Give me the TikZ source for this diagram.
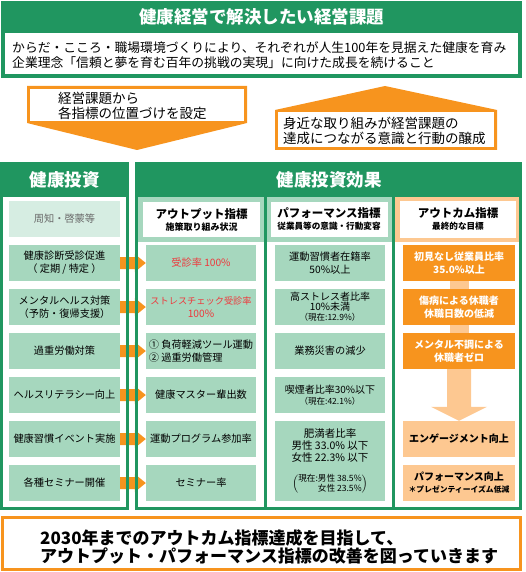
\documentclass[tikz,border=0pt]{standalone}
\usepackage{fontspec}
\setmainfont{Noto Sans CJK JP}
\usetikzlibrary{calc}

\definecolor{kgreen}{RGB}{32,150,96}
\definecolor{mint}{RGB}{166,215,190}
\definecolor{palemint}{RGB}{214,237,226}
\definecolor{korange}{RGB}{247,148,30}
\definecolor{lorange}{RGB}{253,200,145}
\definecolor{redtxt}{RGB}{238,56,60}
\definecolor{graytxt}{RGB}{105,105,105}

\newcommand\setfs[2]{\fontsize{#1}{#2}\selectfont}
% orange push arrow from a left item to its output item
\newcommand\pusharrow[2]{%
  \fill[korange] ($(#1.east)+(0,-6)$) -- ($(#2.west)+(-11,-6)$) -- ($(#2.west)+(-11,-9)$) -- (#2.west) -- ($(#2.west)+(-11,9)$) -- ($(#2.west)+(-11,6)$) -- ($(#1.east)+(0,6)$) -- cycle;}

\tikzset{
  leftitem/.style={fill=mint, minimum width=111pt, minimum height=36pt, inner sep=0pt, align=center, font=\setfs{10.2pt}{13pt}},
  outitem/.style={leftitem, minimum width=110pt},
  goalitem/.style={fill=korange, text=white, minimum width=112pt, minimum height=36pt, inner sep=0pt, align=center, font=\setfs{10pt}{13pt}\bfseries},
  softgoal/.style={goalitem, fill=lorange, text=black},
  headbox/.style={fill=white, minimum width=117pt, minimum height=35pt, inner sep=0pt, align=center, font=\bfseries},
  paneltitle/.style={text=white, inner sep=0pt, font=\setfs{17.5pt}{20pt}\bfseries},
  framegreen/.style={draw=kgreen, line width=3pt},
  plaintext/.style={anchor=west, align=left, inner sep=0pt},
}

\begin{document}
\begin{tikzpicture}[x=1pt,y=-1pt]
\useasboundingbox (0,0) rectangle (525,572);

% banner
\fill[kgreen] (1,1) rectangle (522,78);
\fill[white] (5,33) rectangle (518,74);
\node[paneltitle] (bannertitle) at (261.5,17) {健康経営で解決したい経営課題};
\node[plaintext, font=\setfs{12.8pt}{15pt}] (bannertext) at (12,55.5)
  {からだ・こころ・職場環境づくりにより、それぞれが人生100年を見据えた健康を育み\\企業理念「信頼と夢を育む百年の挑戦の実現」に向けた成長を続けること};

% down arrow and up arrow
\fill[korange] (27,86) -- (247,86) -- (247,123) -- (137,150) -- (27,123) -- cycle;
\fill[white] (30,89) rectangle (244,121);
\node[plaintext, font=\setfs{13.5pt}{15pt}] (settext) at (58,105.5) {経営課題から\\各指標の位置づけを設定};

\fill[korange] (275,150) -- (275,110) -- (385,86) -- (497,110) -- (497,150) -- cycle;
\fill[white] (278,112) rectangle (494,147);
\node[plaintext, font=\setfs{13.5pt}{15pt}] (fostertext) at (283,130.5) {身近な取り組みが経営課題の\\達成につながる意識と行動の醸成};

% panel heads
\fill[kgreen] (0,162) rectangle (129,197);
\fill[kgreen] (135,162) rectangle (522,197);
\node[paneltitle] (invtitle) at (64.5,180) {健康投資};
\node[paneltitle] (efftitle) at (329,180) {健康投資効果};

\fill[mint] (138,197) rectangle (264,242);
\fill[mint] (267,197) rectangle (392,242);
\fill[lorange] (395,197) rectangle (519,242);
\node[headbox] (outhead) at (201.5,219.5) {\setfs{11.5pt}{13pt}アウトプット指標\\\setfs{9pt}{11pt}施策取り組み状況};
\node[headbox] (perfhead) at (329,219.5) {\setfs{11.5pt}{13pt}パフォーマンス指標\\\setfs{8.6pt}{11pt}従業員等の意識・行動変容};
\node[headbox, minimum width=116pt, minimum height=37pt] (goalhead) at (458,219.5) {\setfs{11.5pt}{13pt}アウトカム指標\\\setfs{8.6pt}{11pt}最終的な目標};

% investment items
\node[leftitem, fill=palemint, text=graytxt] (l1) at (64.5,219) {周知・啓蒙等};
\node[leftitem] (l2) at (64.5,263) {健康診断受診促進\\（ 定期 / 特定 ）};
\node[leftitem] (l3) at (64.5,307) {メンタルヘルス対策\\（予防・復帰支援）};
\node[leftitem] (l4) at (64.5,351) {過重労働対策};
\node[leftitem] (l5) at (64.5,395) {ヘルスリテラシー向上};
\node[leftitem] (l6) at (64.5,439) {健康習慣イベント実施};
\node[leftitem] (l7) at (64.5,483) {各種セミナー開催};

% output items
\node[outitem, text=redtxt] (o2) at (201,263) {受診率 100\%};
\node[outitem, text=redtxt, font=\setfs{9.2pt}{13pt}] (o3) at (201,307) {ストレスチェック受診率\\\setfs{10.2pt}{13pt}100\%};
\node[outitem, align=left] (o4) at (201,351) {① 負荷軽減ツール運動\\② 過重労働管理};
\node[outitem] (o5) at (201,395) {健康マスター輩出数};
\node[outitem] (o6) at (201,439) {運動プログラム参加率};
\node[outitem] (o7) at (201,483) {セミナー率};

% performance items
\node[outitem] (p2) at (330,263) {運動習慣者在籍率\\50\%以上};
\node[outitem, font=\setfs{10pt}{10pt}] (p3) at (330,307) {高ストレス者比率\\10\%未満\\\setfs{8.5pt}{10pt}（現在:12.9\%）};
\node[outitem] (p4) at (330,351) {業務災害の減少};
\node[outitem, font=\setfs{10pt}{11pt}] (p5) at (330,395) {喫煙者比率30\%以下\\\setfs{8.5pt}{11pt}（現在:42.1\%）};
\node[outitem, minimum height=80pt, font=\setfs{10.5pt}{12pt}] (p6) at (330,461)
  {肥満者比率\\男性 33.0\% 以下\\女性 22.3\% 以下\\[11pt]
   \setfs{8.6pt}{9pt}\renewcommand\arraystretch{0.7}$\left(\begin{tabular}{@{}r@{}}現在:男性 38.5\%\\女性 23.5\%\end{tabular}\right)$};

% outcome items
\node[goalitem] (u1) at (459,263) {初見なし従業員比率\\35.0\%以上};
\node[goalitem] (u2) at (459,307) {傷病による休職者\\休職日数の低減};
\node[goalitem] (u3) at (459,351) {メンタル不調による\\休職者ゼロ};
\node[softgoal] (u4) at (459,439) {エンゲージメント向上};
\node[softgoal, font=\bfseries] (u5) at (459,483) {\setfs{10pt}{12pt}パフォーマンス向上\\\setfs{7.8pt}{10pt}＊プレゼンティーイズム低減};

\draw[lorange, line width=19pt] (u1.south) -- (u2.north);
\draw[lorange, line width=19pt] (u2.south) -- (u3.north);
\fill[lorange] ($(u3.south)+(-12,0)$) -- ($(u4.north)+(-12,-14)$) -- ($(u4.north)+(-28,-14)$) -- (u4.north)
  -- ($(u4.north)+(28,-14)$) -- ($(u4.north)+(12,-14)$) -- ($(u3.south)+(12,0)$) -- cycle;

% arrows investment -> output
\pusharrow{l2}{o2}
\pusharrow{l3}{o3}
\pusharrow{l4}{o4}
\pusharrow{l5}{o5}
\pusharrow{l6}{o6}
\pusharrow{l7}{o7}

% frames
\draw[framegreen] (1.5,163.5) rectangle (127.5,508.5);
\draw[framegreen] (136.5,163.5) rectangle (520.5,508.5);
\draw[framegreen] (265.5,197) -- (265.5,508.5);
\draw[framegreen] (393.5,197) -- (393.5,508.5);

% closing box
\draw[korange, line width=3pt] (2.5,517.5) rectangle (520.5,569.5);
\node[plaintext, font=\setfs{17pt}{18.5pt}\bfseries] (closing) at (40,547)
  {2030年までのアウトカム指標達成を目指して、\\アウトプット・パフォーマンス指標の改善を図っていきます};
\end{tikzpicture}
\end{document}
